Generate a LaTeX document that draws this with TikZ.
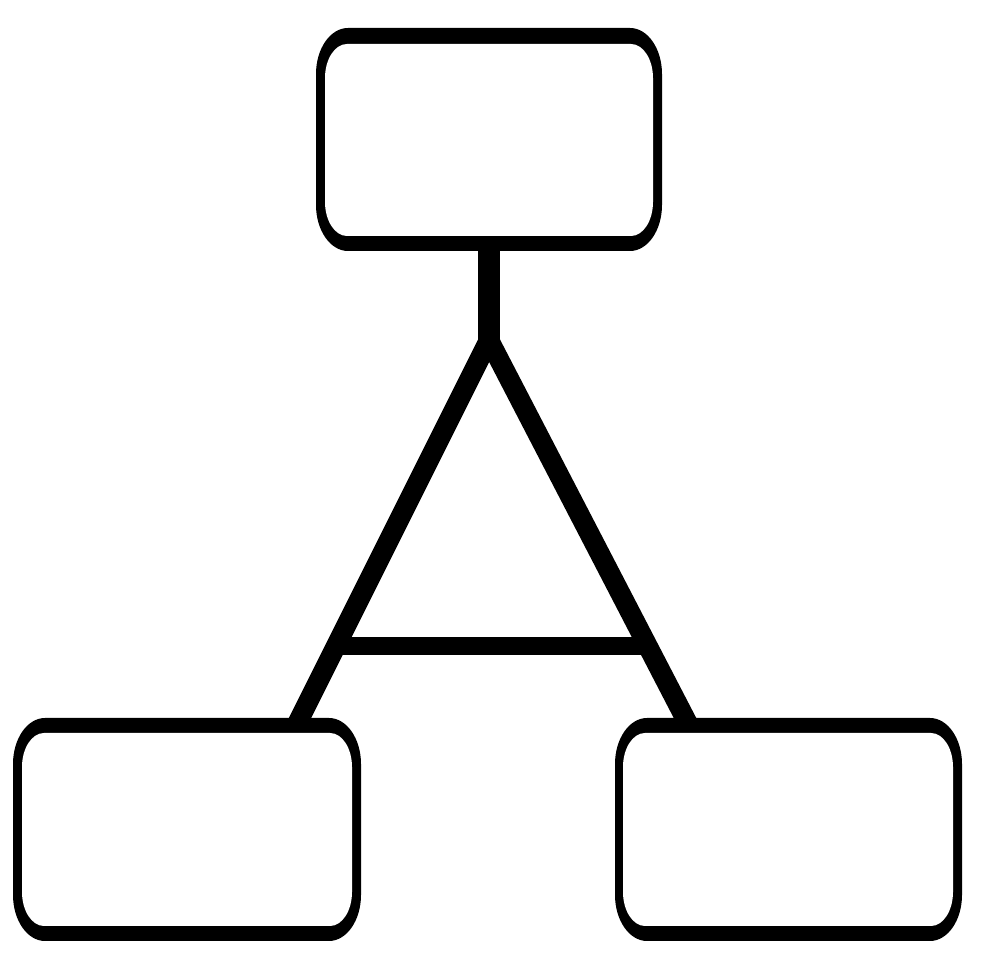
\documentclass[tikz,border=0pt]{standalone}
\usetikzlibrary{calc}
% elliptical-corner rounded rectangle path: x1 y1 x2 y2 rx ry
\newcommand\erectpath[6]{({#1+#5},#2) -- ({#3-#5},#2)
  arc[start angle=-90,end angle=0,x radius=#5,y radius=#6] -- (#3,{#4-#6})
  arc[start angle=0,end angle=90,x radius=#5,y radius=#6] -- ({#1+#5},#4)
  arc[start angle=90,end angle=180,x radius=#5,y radius=#6] -- (#1,{#2+#6})
  arc[start angle=180,end angle=270,x radius=#5,y radius=#6] -- cycle}
\newcommand\ebox[8]{%
  \fill[black] \erectpath{#1}{#2}{#3}{#4}{32}{46};
  \fill[white] \erectpath{#5}{#6}{#7}{#8}{22}{34};}
\tikzset{
  holder/.style={draw=none,inner sep=0pt,outer sep=0pt},
  link/.style={line width=20pt,line cap=butt,black},
}
\begin{document}
\begin{tikzpicture}[x=1pt,y=1pt]
\useasboundingbox[fill=white] (0,0) rectangle (980,980);
% name holders for the three boxes
\node[holder,minimum width=346pt,minimum height=223pt] (top) at (489,840.5) {};
\node[holder,minimum width=348pt,minimum height=223pt] (bl) at (187,150.5) {};
\node[holder,minimum width=347pt,minimum height=223pt] (br) at (788.5,150.5) {};
\coordinate (apex) at (489,640);
\coordinate (lfoot) at (300,262);
\coordinate (rfoot) at (685,262);
% connectors
\draw[link,line width=22pt] (top.south) -- ($(apex)+(0,-8)$);
\draw[link,line join=miter] ($(apex)!1.04!(lfoot)$) -- (apex) -- ($(apex)!1.04!(rfoot)$);
\draw[link,line width=18pt] ($(apex)!0.8095!(lfoot)$) -- ($(apex)!0.8095!(rfoot)$);
% boxes
\ebox{316}{729}{662}{952}{325}{744}{653}{936}
\ebox{13}{39}{361}{262}{22}{54}{352}{247}
\ebox{615}{39}{962}{262}{623}{54}{953}{247}
\end{tikzpicture}
\end{document}
